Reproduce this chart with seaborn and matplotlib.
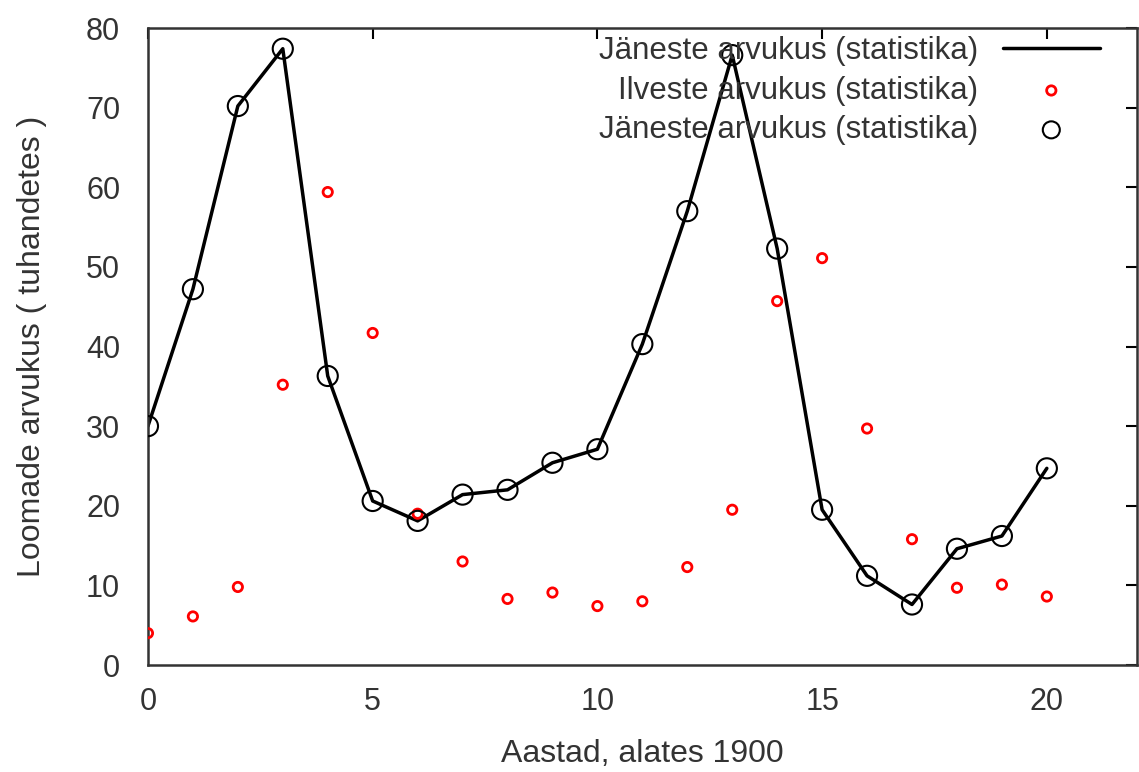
import matplotlib
matplotlib.use("Agg")
import matplotlib.pyplot as plt
import seaborn as sns
import pandas as pd

years = list(range(0, 21))
hare = [30.0, 47.2, 70.2, 77.4, 36.3, 20.6, 18.1, 21.4, 22.0, 25.4, 27.1,
        40.3, 57.0, 76.6, 52.3, 19.5, 11.2, 7.6, 14.6, 16.2, 24.7]
lynx = [4.0, 6.1, 9.8, 35.2, 59.4, 41.7, 19.0, 13.0, 8.3, 9.1, 7.4,
        8.0, 12.3, 19.5, 45.7, 51.1, 29.7, 15.8, 9.7, 10.1, 8.6]
xticks = [0, 5, 10, 15, 20]
yticks = [0, 10, 20, 30, 40, 50, 60, 70, 80]
lbl_hare = "Jäneste arvukus (statistika)"
lbl_lynx = "Ilveste arvukus (statistika)"

df = pd.DataFrame({"year": years, "hare": hare, "lynx": lynx})

sns.set_style("white")
plt.rcParams['font.family'] = ['Liberation Sans', 'DejaVu Sans']

fig = plt.figure(figsize=(11.39, 7.72), dpi=100)
ax = fig.add_axes([0.1299, 0.1386, 0.998 - 0.1299, 0.9637 - 0.1386])

sns.lineplot(data=df, x="year", y="hare", ax=ax, color="black", lw=2.5,
             label=lbl_hare, legend=False)
sns.scatterplot(data=df, x="year", y="lynx", ax=ax, marker="o", s=45,
                facecolors="none", edgecolor="red", linewidth=2,
                label=lbl_lynx, legend=False, zorder=3)
sns.scatterplot(data=df, x="year", y="hare", ax=ax, marker="o", s=210,
                facecolors="none", edgecolor="black", linewidth=1.5,
                label=lbl_hare, legend=False, zorder=3)

ax.set_xlim(0, 22)
ax.set_ylim(0, 80)
ax.set_xticks(xticks)
ax.set_yticks(yticks)
ax.tick_params(direction="in", length=8, width=1.5, top=True, right=True,
               colors="black", labelsize=22, labelcolor="#333333")
ax.tick_params(axis="y", pad=20)
ax.tick_params(axis="x", pad=16)
for s in ax.spines.values():
    s.set_color("#333333")
    s.set_linewidth(1.8)

ax.set_xlabel("Aastad, alates 1900", fontsize=23, color="#333333", labelpad=16)
ax.set_ylabel("Loomade arvukus ( tuhandetes )", fontsize=23, color="#333333", labelpad=28)

h, l = ax.get_legend_handles_labels()
leg = ax.legend(h, l, loc="upper right", bbox_to_anchor=(0.9626, 0.987),
                frameon=False, markerfirst=False,
                fontsize=22.5, handlelength=3.1, labelspacing=0.3,
                borderaxespad=0, borderpad=0, handletextpad=0.8)
for t in leg.get_texts():
    t.set_color("#333333")
leg.legend_handles[2].set_sizes([150])

fig.savefig("out.png", dpi=100)
